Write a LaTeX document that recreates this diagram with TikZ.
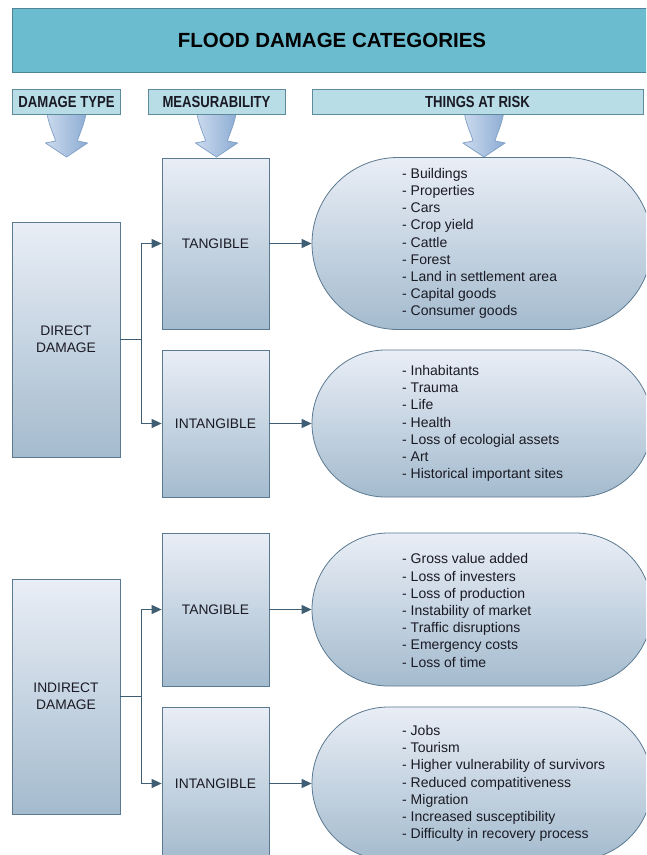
\documentclass[tikz,border=0pt]{standalone}
\usepackage{fontspec}
\setmainfont{Liberation Sans}
\newfontfamily\hdrfont[FakeStretch=0.82]{Liberation Sans}
\usetikzlibrary{shapes.misc,arrows.meta,calc}

\definecolor{titlefill}{HTML}{6CBCD0}
\definecolor{titleline}{HTML}{4F8397}
\definecolor{hdrfill}{HTML}{B8DDE7}
\definecolor{hdrline}{HTML}{5E8B9C}
\definecolor{boxtop}{HTML}{E9EEF6}
\definecolor{boxbot}{HTML}{A4BBCE}
\definecolor{boxline}{HTML}{5B7990}
\definecolor{connline}{HTML}{3F5D73}
\definecolor{txt}{HTML}{1A1A24}
\definecolor{arrl}{HTML}{CCDBEE}
\definecolor{arrr}{HTML}{8CACD3}
\definecolor{arrline}{HTML}{7F9FC5}

\tikzset{
  titlebar/.style={draw=titleline, fill=titlefill, line width=0.8pt, minimum width=640pt, minimum height=64pt, inner sep=0pt, font=\bfseries\fontsize{20.5}{24}\selectfont, text=black},
  hdr/.style={draw=hdrline, fill=hdrfill, line width=0.8pt, minimum height=25pt, inner sep=0pt, font=\hdrfont\bfseries\fontsize{16}{19}\selectfont, text=txt},
  catbox/.style={draw=boxline, line width=0.8pt, top color=boxtop, bottom color=boxbot, minimum width=107pt, inner sep=0pt, align=center, font=\fontsize{13.8}{17}\selectfont, text=txt},
  capsule/.style={rounded rectangle, draw=boxline, line width=0.8pt, top color=boxtop, bottom color=boxbot, minimum width=340pt, inner sep=0pt},
  risklist/.style={anchor=west, align=left, inner sep=0pt, font=\fontsize{14}{17.2}\selectfont, text=txt},
  conn/.style={draw=connline, line width=1.1pt, -{Triangle[length=10pt,width=9pt]}},
  downarrow/.style={draw=arrline, line width=0.7pt, left color=arrl, right color=arrr}
}

\newcommand\blockdown{\path[downarrow] (-19.5,0) .. controls (-17,13) and (-12,22) .. (-11,27) -- (-21,29) -- (0,43) -- (21,29) -- (11,27) .. controls (12,22) and (17,13) .. (19.5,0) -- cycle;}

\begin{document}
\begin{tikzpicture}[x=1pt,y=-1pt]
\useasboundingbox (0,0) rectangle (646,855);
\clip (0,0) rectangle (646,855);
\fill[white] (0,0) rectangle (646,855);

% title
\node[titlebar] (title) at (332,40) {FLOOD DAMAGE CATEGORIES};

% block arrows below the headers
\coordinate (a1) at (66.5,114);
\coordinate (a2) at (216.5,114);
\coordinate (a3) at (484,114);
\begin{scope}[shift={(a1)}]\blockdown\end{scope}
\begin{scope}[shift={(a2)}]\blockdown\end{scope}
\begin{scope}[shift={(a3)}]\blockdown\end{scope}

% headers
\node[hdr, minimum width=108pt] (hdt) at (66.5,101.5) {DAMAGE TYPE};
\node[hdr, minimum width=137pt] (hms) at (216.5,101.5) {MEASURABILITY};
\node[hdr, minimum width=331pt] (htr) at (477.5,101.5) {THINGS AT RISK};

% damage type boxes
\node[catbox, minimum width=108pt, minimum height=235pt] (dd) at (66,339.5) {DIRECT\\DAMAGE};
\node[catbox, minimum width=108pt, minimum height=235pt] (id) at (66,696.5) {INDIRECT\\DAMAGE};

% measurability boxes
\node[catbox, minimum height=171pt] (t1) at (215.5,243.5) {TANGIBLE};
\node[catbox, minimum height=147pt] (i1) at (215.5,423.5) {INTANGIBLE};
\node[catbox, minimum height=153pt] (t2) at (215.5,609.5) {TANGIBLE};
\node[catbox, minimum height=153pt] (i2) at (215.5,783.5) {INTANGIBLE};

% capsules
\node[capsule, minimum height=172pt] (c1) at (482,243.5) {};
\node[capsule, minimum height=147pt] (c2) at (482,423.5) {};
\node[capsule, minimum height=153pt] (c3) at (482,609.5) {};
\node[capsule, minimum height=153pt] (c4) at (482,783.5) {};

\node[risklist] (l1) at (402,243.5) {- Buildings\\- Properties\\- Cars\\- Crop yield\\- Cattle\\- Forest\\- Land in settlement area\\- Capital goods\\- Consumer goods};
\node[risklist] (l2) at (402,423.5) {- Inhabitants\\- Trauma\\- Life\\- Health\\- Loss of ecologial assets\\- Art\\- Historical important sites};
\node[risklist] (l3) at (402,610.5) {- Gross value added\\- Loss of investers\\- Loss of production\\- Instability of market\\- Traffic disruptions\\- Emergency costs\\- Loss of time};
\node[risklist] (l4) at (402,783.5) {- Jobs\\- Tourism\\- Higher vulnerability of survivors\\- Reduced compatitiveness\\- Migration\\- Increased susceptibility\\- Difficulty in recovery process};

% connectors
\draw[conn] (dd.east) -- ++(21,0) |- (t1.west);
\draw[conn] (dd.east) -- ++(21,0) |- (i1.west);
\draw[conn] (id.east) -- ++(21,0) |- (t2.west);
\draw[conn] (id.east) -- ++(21,0) |- (i2.west);
\draw[conn] (t1.east) -- (t1.east -| c1.west);
\draw[conn] (i1.east) -- (i1.east -| c2.west);
\draw[conn] (t2.east) -- (t2.east -| c3.west);
\draw[conn] (i2.east) -- (i2.east -| c4.west);
\end{tikzpicture}
\end{document}
